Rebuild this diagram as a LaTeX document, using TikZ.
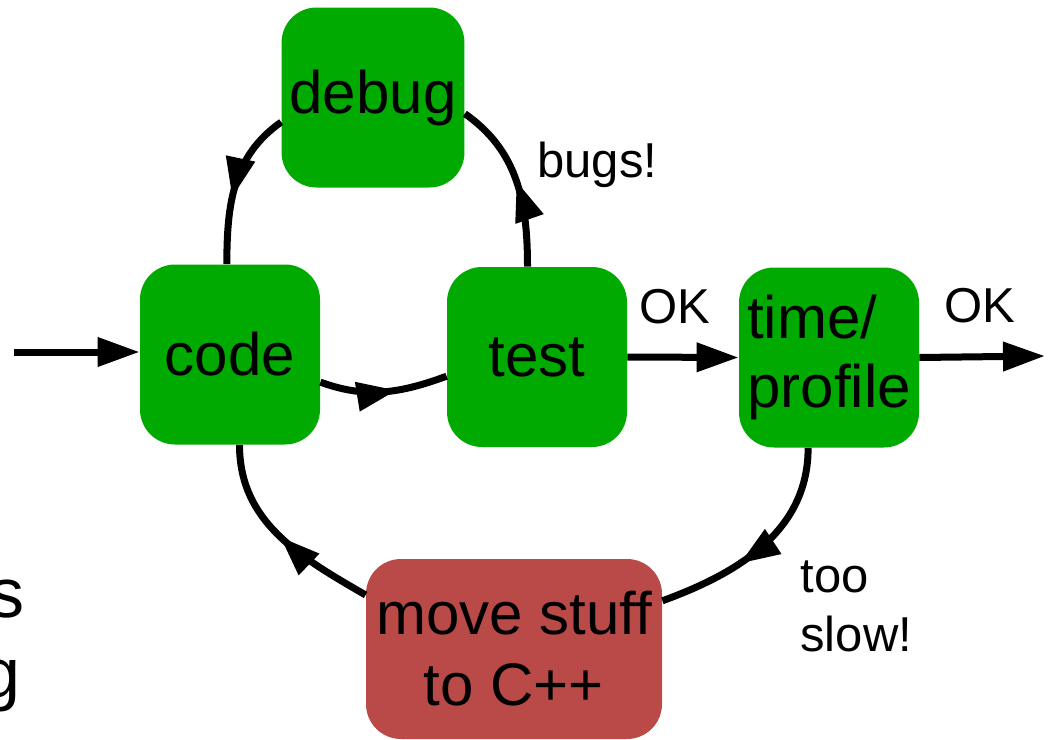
\documentclass[tikz,border=0pt]{standalone}
\usepackage{fontspec}
\setmainfont{Liberation Sans}
\usetikzlibrary{arrows.meta,decorations.markings}
\definecolor{boxgreen}{HTML}{00AA00}
\definecolor{boxred}{HTML}{B94A48}

\begin{document}
\begin{tikzpicture}[x=0.5pt,y=0.5pt,
  stage/.style={fill=boxgreen, rounded corners=17.5pt, minimum width=90pt,
    minimum height=90pt, inner sep=4pt, align=center,
    font=\fontsize{30pt}{34.5pt}\selectfont},
  flow/.style={line width=3.5pt, draw=black},
  endtip/.style={-{Triangle[length=21pt,width=14pt]}},
  midarrow/.style={postaction={decorate}, decoration={markings,
    mark=at position #1 with {\arrow{Triangle[length=20pt,width=14pt]}}}},
  tag/.style={font=\fontsize{24.5pt}{29.5pt}\selectfont, inner sep=0pt, align=left},
  cut/.style={font=\fontsize{35pt}{40pt}\selectfont, inner sep=0pt}]
\useasboundingbox (0,0) rectangle (1049,-739);
\clip (0,0) rectangle (1049,-739);

% workflow stages
\node[stage] (debug) at (373,-97.5) {debug};
\node[stage] (code)  at (230,-354.5) {code};
\node[stage] (test)  at (537,-357) {test};
\node[stage, align=left] (time) at (829,-357.5) {time/\\profile};
\node[stage, fill=boxred, minimum width=148pt, font=\fontsize{30pt}{35.5pt}\selectfont]
  (move) at (514,-649) {move stuff\\to C++};

% free ends of the entry and exit arrows
\coordinate (in)  at (14,-352);
\coordinate (out) at (1045,-356);

% connectors
\draw[flow,endtip] (in) -- (in -| code.west);
\draw[flow,midarrow=0.6] (code.-17) to[out=-20,in=200] (test.192);
\draw[flow,midarrow=0.5] (test.96) to[out=90,in=-35] (debug.-10);
\draw[flow,midarrow=0.58] (debug.195) to[out=215,in=90] (code.92);
\draw[flow,endtip] (test.east) -- (time.west);
\draw[flow,endtip] (time.east) -- (out);
\draw[flow,midarrow=0.62] (time.257) to[out=-90,in=20] (move.18);
\draw[flow,midarrow=0.5] (move.160) to[out=150,in=-90] (code.-84);

% connector labels
\node[tag, anchor=base west] (bugs) at (537,-177) {bugs!};
\node[tag, anchor=base west] (ok1) at (639,-323) {OK};
\node[tag, anchor=base west] (ok2) at (944,-322) {OK};
\node[tag, anchor=west] (slow) at (800,-606) {too\\slow!};

% text running off the left edge
\node[cut, anchor=base east] (cuts) at (25,-617) {s};
\node[cut, anchor=base east] (cutg) at (21,-697) {g};
\end{tikzpicture}
\end{document}
